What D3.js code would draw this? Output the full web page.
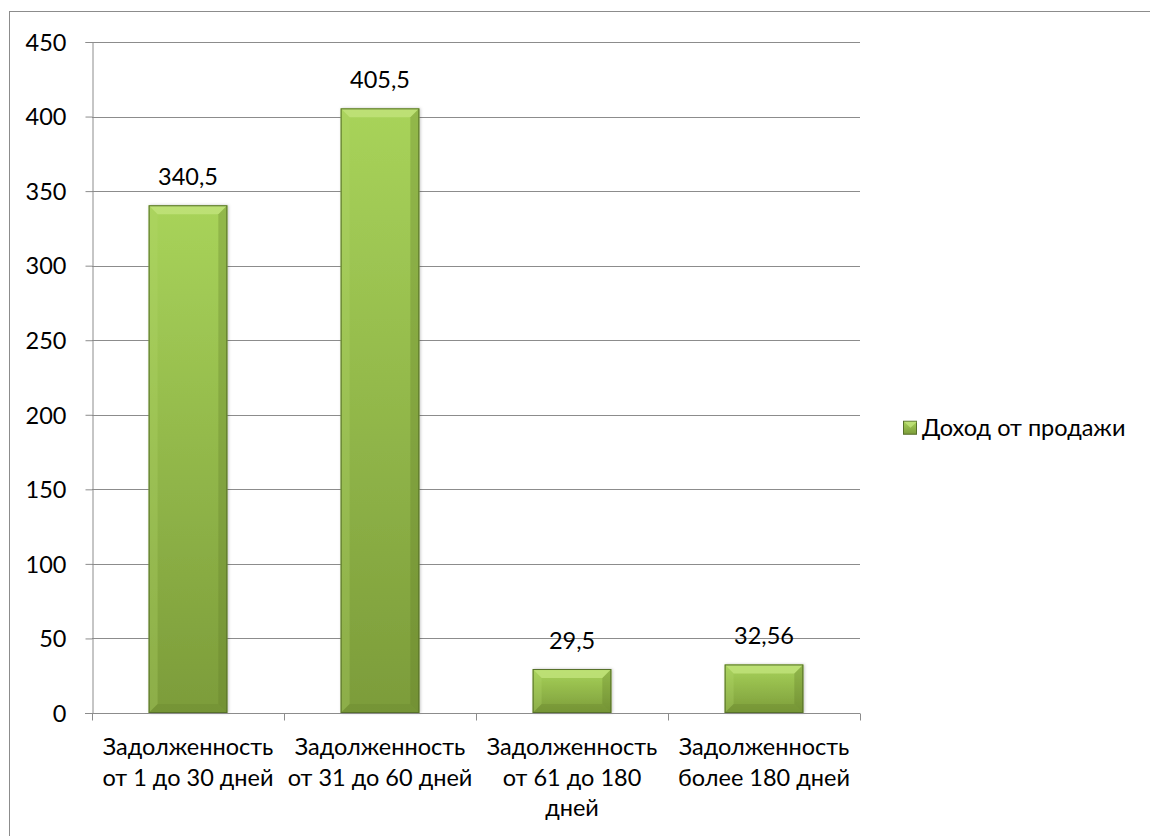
<!DOCTYPE html>
<html>
<head>
<meta charset="utf-8">
<script src="https://cdn.jsdelivr.net/npm/d3@7"></script>
<style>
  body { margin: 0; background: #fff; }
  svg text { font-family: Lato, "Open Sans", sans-serif; fill: #000; }
</style>
</head>
<body>
<div id="chart"></div>
<script>
// Data
const categories = [
  ['Задолженность', 'от 1 до 30 дней'],
  ['Задолженность', 'от 31 до 60 дней'],
  ['Задолженность', 'от 61 до 180', 'дней'],
  ['Задолженность', 'более 180 дней']
];
const values = [340.5, 405.5, 29.5, 32.56];
const valueLabels = ['340,5', '405,5', '29,5', '32,56'];
const yTicks = [0, 50, 100, 150, 200, 250, 300, 350, 400, 450];
const seriesName = 'Доход от продажи';

// Setup dimensions
const width = 1150;
const height = 836;
const margin = { top: 42, right: 290, bottom: 123, left: 92 };
const fontSize = 23.5;

const svg = d3.select('#chart')
  .append('svg')
  .attr('width', width)
  .attr('height', height);

// Outer frame
svg.append('rect')
  .attr('x', 9.5)
  .attr('y', 11.5)
  .attr('width', width + 10)
  .attr('height', height + 10)
  .attr('fill', 'none')
  .attr('stroke', '#8c8c8c')
  .attr('stroke-width', 1);

// Gradients
const defs = svg.append('defs');
const grad = defs.append('linearGradient')
  .attr('id', 'barGrad')
  .attr('x1', 0).attr('y1', 0).attr('x2', 0).attr('y2', 1);
grad.append('stop').attr('offset', '0%').attr('stop-color', '#a8d35a');
grad.append('stop').attr('offset', '100%').attr('stop-color', '#7c9c3a');

const shadow = defs.append('filter')
  .attr('id', 'shadow')
  .attr('x', '-20%').attr('y', '-5%').attr('width', '140%').attr('height', '110%');
shadow.append('feDropShadow')
  .attr('dx', 1).attr('dy', 0).attr('stdDeviation', 1.5)
  .attr('flood-color', '#000').attr('flood-opacity', 0.25);

// Scales
const xScale = d3.scaleBand()
  .domain(d3.range(categories.length))
  .range([margin.left, width - margin.right])
  .paddingInner(0.59)
  .paddingOuter(0.295);

const yScale = d3.scaleLinear()
  .domain([0, 450])
  .range([height - margin.bottom, margin.top]);

// Grid lines
svg.append('g')
  .selectAll('line')
  .data(yTicks.filter(d => d > 0))
  .enter().append('line')
  .attr('x1', margin.left)
  .attr('x2', width - margin.right)
  .attr('y1', d => Math.round(yScale(d)) + 0.5)
  .attr('y2', d => Math.round(yScale(d)) + 0.5)
  .attr('stroke', '#8c8c8c')
  .attr('stroke-width', 1);

// Bars
const bw = xScale.bandwidth();
const bev = 9;
const bars = svg.append('g')
  .selectAll('g')
  .data(values)
  .enter().append('g')
  .attr('transform', (d, i) => `translate(${xScale(i)},${yScale(d)})`);

bars.append('rect')
  .attr('width', bw)
  .attr('height', d => yScale(0) - yScale(d))
  .attr('fill', 'url(#barGrad)')
  .attr('filter', 'url(#shadow)');

// bevel: top lighter, sides and bottom shading
bars.append('path')
  .attr('d', d => `M0,0 L${bw},0 L${bw - bev},${bev} L${bev},${bev} Z`)
  .attr('fill', '#c2e47c')
  .attr('opacity', 0.8);
bars.append('path')
  .attr('d', d => { const h = yScale(0) - yScale(d); return `M0,0 L${bev},${bev} L${bev},${h - bev} L0,${h} Z`; })
  .attr('fill', '#b4d86a')
  .attr('opacity', 0.3);
bars.append('path')
  .attr('d', d => { const h = yScale(0) - yScale(d); return `M${bw},0 L${bw - bev},${bev} L${bw - bev},${h - bev} L${bw},${h} Z`; })
  .attr('fill', '#5f7a28')
  .attr('opacity', 0.3);
bars.append('path')
  .attr('d', d => { const h = yScale(0) - yScale(d); return `M0,${h} L${bev},${h - bev} L${bw - bev},${h - bev} L${bw},${h} Z`; })
  .attr('fill', '#6a862e')
  .attr('opacity', 0.35);

bars.append('rect')
  .attr('x', 0.5)
  .attr('y', 0.5)
  .attr('width', bw - 1)
  .attr('height', d => Math.max(0, yScale(0) - yScale(d) - 1))
  .attr('fill', 'none')
  .attr('stroke', '#56702a')
  .attr('stroke-width', 1);

// Value labels
svg.append('g')
  .selectAll('text')
  .data(values)
  .enter().append('text')
  .attr('x', (d, i) => xScale(i) + bw / 2)
  .attr('y', d => yScale(d) - 20)
  .attr('text-anchor', 'middle')
  .attr('font-size', fontSize)
  .text((d, i) => valueLabels[i]);

// Axes
const yAxis = svg.append('g')
  .attr('transform', `translate(${margin.left + 0.5},0)`)
  .call(d3.axisLeft(yScale).tickValues(yTicks).tickSize(7).tickPadding(19));
yAxis.selectAll('text').attr('font-size', fontSize).attr('dy', '0.35em');

const xAxisG = svg.append('g')
  .attr('transform', `translate(0,${Math.round(yScale(0)) + 0.5})`);
xAxisG.append('line')
  .attr('x1', margin.left - 7)
  .attr('x2', width - margin.right)
  .attr('stroke', '#8c8c8c');
xAxisG.selectAll('line.tick')
  .data(d3.range(categories.length + 1))
  .enter().append('line')
  .attr('class', 'tick')
  .attr('x1', i => Math.round(margin.left + i * xScale.step()) + 0.5)
  .attr('x2', i => Math.round(margin.left + i * xScale.step()) + 0.5)
  .attr('y1', 0)
  .attr('y2', 7)
  .attr('stroke', '#8c8c8c');

yAxis.selectAll('line').attr('stroke', '#8c8c8c');
yAxis.select('.domain').attr('stroke', '#8c8c8c');

// Category labels
const catLabels = svg.append('g')
  .selectAll('text')
  .data(categories)
  .enter().append('text')
  .attr('x', (d, i) => xScale(i) + bw / 2)
  .attr('y', yScale(0) + 42)
  .attr('text-anchor', 'middle')
  .attr('font-size', fontSize);
catLabels.selectAll('tspan')
  .data(d => d)
  .enter().append('tspan')
  .attr('x', function() { return d3.select(this.parentNode).attr('x'); })
  .attr('dy', (d, i) => i === 0 ? 0 : 30.5)
  .text(d => d);

// Legend
const legend = svg.append('g')
  .attr('transform', `translate(${width - margin.right + 43},${yScale(196)})`);
legend.append('rect')
  .attr('x', 0.5)
  .attr('y', 0.5)
  .attr('width', 13)
  .attr('height', 13)
  .attr('fill', 'url(#barGrad)')
  .attr('stroke', '#56702a');
legend.append('path')
  .attr('d', 'M1,1 L14,1 L7.5,7 Z')
  .attr('fill', '#c2e47c')
  .attr('opacity', 0.8);
legend.append('text')
  .attr('x', 19)
  .attr('y', 7)
  .attr('dy', '0.35em')
  .attr('font-size', fontSize)
  .text(seriesName);
</script>
</body>
</html>
